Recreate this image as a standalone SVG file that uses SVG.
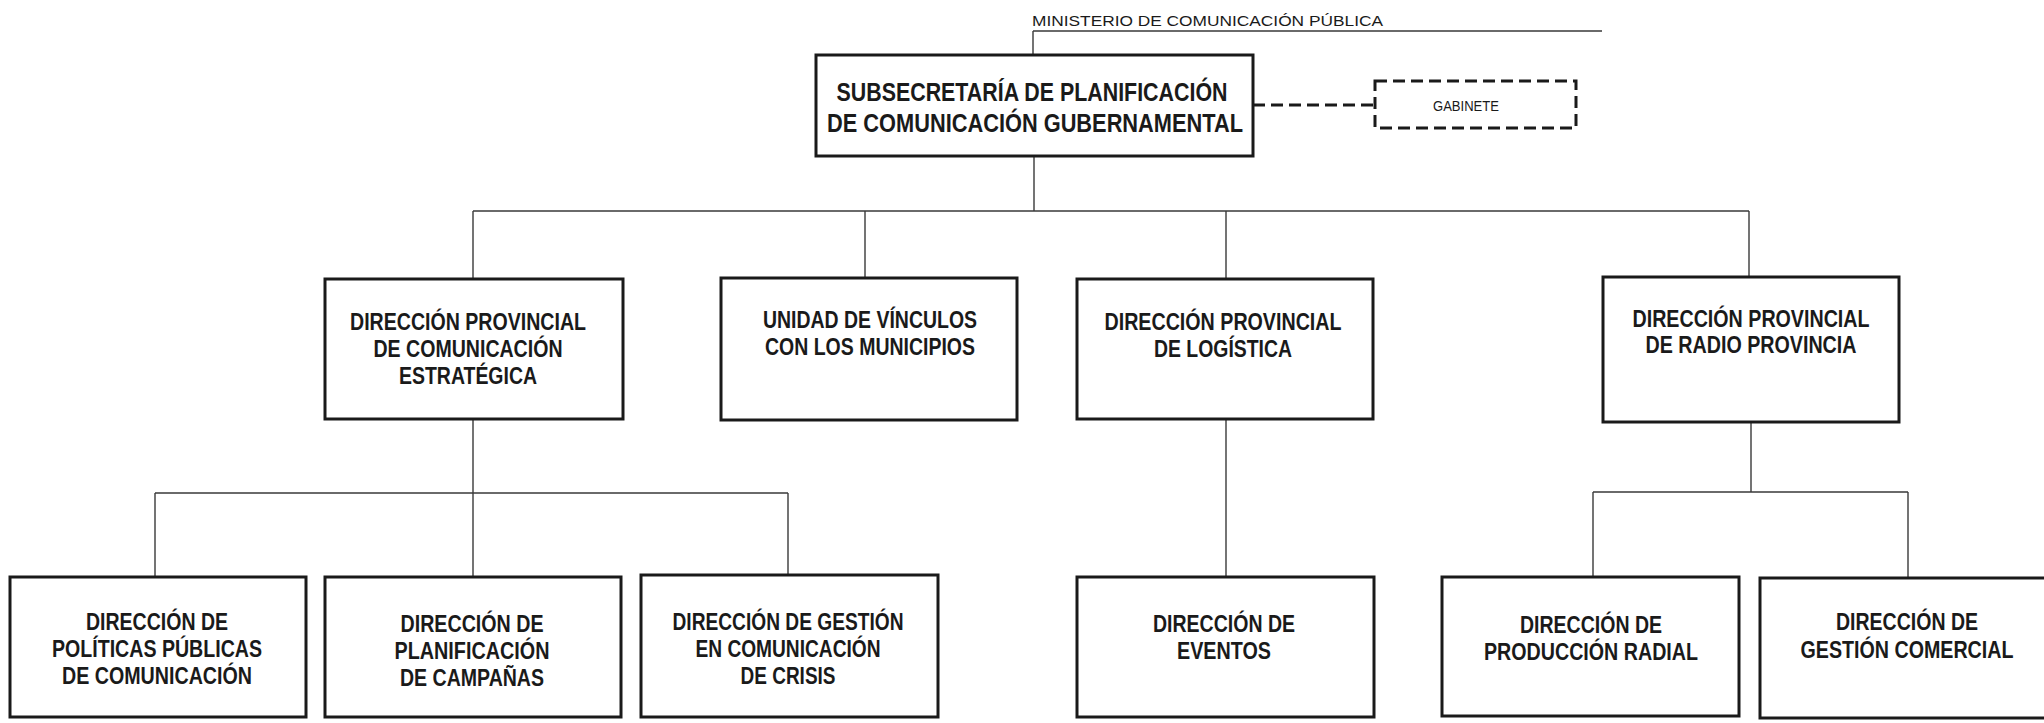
<svg xmlns="http://www.w3.org/2000/svg" width="2044" height="723" viewBox="0 0 2044 723">
<style>
.box{fill:#fff;stroke:#1a1a1a;stroke-width:3}
.dash{fill:#fff;stroke:#1a1a1a;stroke-width:3;stroke-dasharray:12 6}
.t{font-family:"Liberation Sans Narrow","Liberation Sans",Arial,sans-serif;font-weight:bold;font-size:24px;fill:#1a1a1a;text-anchor:middle}
.tt{font-family:"Liberation Sans Narrow","Liberation Sans",Arial,sans-serif;font-weight:bold;font-size:26px;fill:#1a1a1a;text-anchor:middle}
.s{font-family:"Liberation Sans Narrow","Liberation Sans",Arial,sans-serif;font-size:15px;fill:#1a1a1a}
.c{fill:none;stroke:#3a3a3a;stroke-width:1.4}
</style>
<rect width="2044" height="723" fill="#fff"/>
<g id="connectors">
<path class="c" d="M1033,31 H1602 M1033,31 V55"/>
<path class="c" d="M1034,156 V211 M473,211 H1749 M473,211 V279 M865,211 V278 M1226,211 V279 M1749,211 V277"/>
<path class="c" d="M473,419 V493 M155,493 H788 M155,493 V577 M473,493 V577 M788,493 V575"/>
<path class="c" d="M1226,419 V577"/>
<path class="c" d="M1751,422 V492 M1593,492 H1908 M1593,492 V576 M1908,492 V578"/>
<path d="M1253,105 H1375" fill="none" stroke="#1a1a1a" stroke-width="3" stroke-dasharray="12 6"/>
</g>
<g id="ministerio">
<text class="s" x="1032" y="26" textLength="351" lengthAdjust="spacingAndGlyphs">MINISTERIO DE COMUNICACIÓN PÚBLICA</text>
</g>
<g id="subsecretaria">
<rect class="box" x="816" y="55" width="437" height="101"/>
<text class="tt" x="1032" y="101" textLength="391" lengthAdjust="spacingAndGlyphs">SUBSECRETARÍA DE PLANIFICACIÓN</text>
<text class="tt" x="1035" y="132" textLength="416" lengthAdjust="spacingAndGlyphs">DE COMUNICACIÓN GUBERNAMENTAL</text>
</g>
<g id="gabinete">
<rect class="dash" x="1375" y="81" width="201" height="47"/>
<text class="s" x="1466" y="111" text-anchor="middle" textLength="66" lengthAdjust="spacingAndGlyphs">GABINETE</text>
</g>
<g id="dp-comunicacion-estrategica">
<rect class="box" x="325" y="279" width="298" height="140"/>
<text class="t" x="468" y="330" textLength="236" lengthAdjust="spacingAndGlyphs">DIRECCIÓN PROVINCIAL</text>
<text class="t" x="468" y="357" textLength="189" lengthAdjust="spacingAndGlyphs">DE COMUNICACIÓN</text>
<text class="t" x="468" y="384" textLength="138" lengthAdjust="spacingAndGlyphs">ESTRATÉGICA</text>
</g>
<g id="unidad-vinculos">
<rect class="box" x="721" y="278" width="296" height="142"/>
<text class="t" x="870" y="328" textLength="214" lengthAdjust="spacingAndGlyphs">UNIDAD DE VÍNCULOS</text>
<text class="t" x="870" y="355" textLength="210" lengthAdjust="spacingAndGlyphs">CON LOS MUNICIPIOS</text>
</g>
<g id="dp-logistica">
<rect class="box" x="1077" y="279" width="296" height="140"/>
<text class="t" x="1223" y="330" textLength="237" lengthAdjust="spacingAndGlyphs">DIRECCIÓN PROVINCIAL</text>
<text class="t" x="1223" y="357" textLength="138" lengthAdjust="spacingAndGlyphs">DE LOGÍSTICA</text>
</g>
<g id="dp-radio-provincia">
<rect class="box" x="1603" y="277" width="296" height="145"/>
<text class="t" x="1751" y="327" textLength="237" lengthAdjust="spacingAndGlyphs">DIRECCIÓN PROVINCIAL</text>
<text class="t" x="1751" y="353" textLength="211" lengthAdjust="spacingAndGlyphs">DE RADIO PROVINCIA</text>
</g>
<g id="d-politicas-publicas">
<rect class="box" x="10" y="577" width="296" height="140"/>
<text class="t" x="157" y="630" textLength="142" lengthAdjust="spacingAndGlyphs">DIRECCIÓN DE</text>
<text class="t" x="157" y="657" textLength="210" lengthAdjust="spacingAndGlyphs">POLÍTICAS PÚBLICAS</text>
<text class="t" x="157" y="684" textLength="190" lengthAdjust="spacingAndGlyphs">DE COMUNICACIÓN</text>
</g>
<g id="d-planificacion-campanas">
<rect class="box" x="325" y="577" width="296" height="140"/>
<text class="t" x="472" y="632" textLength="143" lengthAdjust="spacingAndGlyphs">DIRECCIÓN DE</text>
<text class="t" x="472" y="659" textLength="155" lengthAdjust="spacingAndGlyphs">PLANIFICACIÓN</text>
<text class="t" x="472" y="686" textLength="144" lengthAdjust="spacingAndGlyphs">DE CAMPAÑAS</text>
</g>
<g id="d-gestion-crisis">
<rect class="box" x="641" y="575" width="297" height="142"/>
<text class="t" x="788" y="630" textLength="231" lengthAdjust="spacingAndGlyphs">DIRECCIÓN DE GESTIÓN</text>
<text class="t" x="788" y="657" textLength="185" lengthAdjust="spacingAndGlyphs">EN COMUNICACIÓN</text>
<text class="t" x="788" y="684" textLength="95" lengthAdjust="spacingAndGlyphs">DE CRISIS</text>
</g>
<g id="d-eventos">
<rect class="box" x="1077" y="577" width="297" height="140"/>
<text class="t" x="1224" y="632" textLength="142" lengthAdjust="spacingAndGlyphs">DIRECCIÓN DE</text>
<text class="t" x="1224" y="659" textLength="94" lengthAdjust="spacingAndGlyphs">EVENTOS</text>
</g>
<g id="d-produccion-radial">
<rect class="box" x="1442" y="577" width="297" height="139"/>
<text class="t" x="1591" y="633" textLength="142" lengthAdjust="spacingAndGlyphs">DIRECCIÓN DE</text>
<text class="t" x="1591" y="660" textLength="214" lengthAdjust="spacingAndGlyphs">PRODUCCIÓN RADIAL</text>
</g>
<g id="d-gestion-comercial">
<rect class="box" x="1760" y="578" width="297" height="140"/>
<text class="t" x="1907" y="630" textLength="142" lengthAdjust="spacingAndGlyphs">DIRECCIÓN DE</text>
<text class="t" x="1907" y="658" textLength="213" lengthAdjust="spacingAndGlyphs">GESTIÓN COMERCIAL</text>
</g>
</svg>
